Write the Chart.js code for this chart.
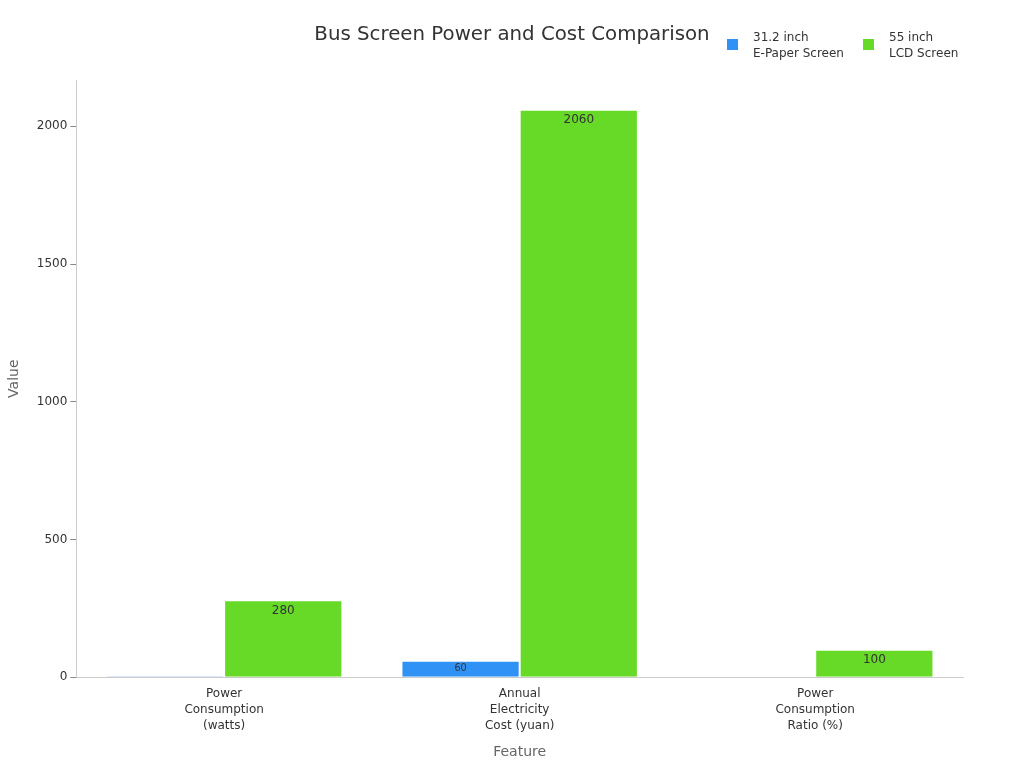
<!DOCTYPE html>
<html>
<head>
<meta charset="utf-8">
<script src="https://cdn.jsdelivr.net/npm/chart.js@4.4.1/dist/chart.umd.min.js"></script>
<style>
    html, body { margin: 0; padding: 0; background: #fff; }
    #wrap { width: 1024px; height: 768px; position: relative; }
</style>
</head>
<body>
<div id="wrap"><canvas id="powerChart"></canvas></div>
<script>
const categories = [
    ['Power', 'Consumption', '(watts)'],
    ['Annual', 'Electricity', 'Cost (yuan)'],
    ['Power', 'Consumption', 'Ratio (%)']
];
const seriesNames = [
    ['31.2 inch', 'E-Paper Screen'],
    ['55 inch', 'LCD Screen']
];
const epaperValues = [5, 60, 1.8];
const lcdValues = [280, 2060, 100];
const yTicks = [0, 500, 1000, 1500, 2000];

const colors = ['#3192f6', '#66da26'];
const FONT = "'DejaVu Sans', sans-serif";
const TITLE = 'Bus Screen Power and Cost Comparison';

// value labels inside the top of each bar, shrinking with short bars
const barLabels = {
    id: 'barLabels',
    afterDatasetsDraw(chart) {
        const ctx = chart.ctx;
        chart.data.datasets.forEach((ds, i) => {
            chart.getDatasetMeta(i).data.forEach((bar, j) => {
                const h = bar.base - bar.y;
                const size = Math.min(12, h * 0.6);
                if (size < 0.5) return;
                ctx.save();
                ctx.font = size + 'px ' + FONT;
                ctx.fillStyle = '#333';
                ctx.textAlign = 'center';
                ctx.textBaseline = 'middle';
                const y = Math.min(bar.y + 10.5, bar.y + h / 2);
                ctx.fillText(String(ds.data[j]), bar.x, y);
                ctx.restore();
            });
        });
    }
};

// title centred on the page plus a two-line legend in the top right corner
const header = {
    id: 'header',
    afterDraw(chart) {
        const ctx = chart.ctx;
        const xs = [727, 863];
        ctx.save();
        ctx.font = '19.8px ' + FONT;
        ctx.fillStyle = '#333';
        ctx.textAlign = 'center';
        ctx.textBaseline = 'middle';
        ctx.fillText(TITLE, chart.width / 2, 35);

        ctx.font = '12px ' + FONT;
        ctx.textAlign = 'left';
        seriesNames.forEach((lines, i) => {
            ctx.fillStyle = colors[i];
            ctx.fillRect(xs[i], 39, 11, 11);
            ctx.fillStyle = '#333';
            lines.forEach((t, k) => ctx.fillText(t, xs[i] + 26, 38 + k * 16));
        });
        ctx.restore();
    }
};

const ctx = document.getElementById('powerChart').getContext('2d');
new Chart(ctx, {
    type: 'bar',
    data: {
        labels: categories,
        datasets: [
            {
                label: seriesNames[0].join(' '),
                data: epaperValues,
                backgroundColor: colors[0],
                borderColor: 'rgba(255,255,255,0.5)',
                borderWidth: 1,
                categoryPercentage: 0.8,
                barPercentage: 1.0
            },
            {
                label: seriesNames[1].join(' '),
                data: lcdValues,
                backgroundColor: colors[1],
                borderColor: 'rgba(255,255,255,0.5)',
                borderWidth: 1,
                categoryPercentage: 0.8,
                barPercentage: 1.0
            }
        ]
    },
    options: {
        responsive: true,
        maintainAspectRatio: false,
        animation: false,
        layout: { padding: { top: 80, right: 61, left: 2, bottom: 3 } },
        plugins: {
            legend: { display: false },
            tooltip: { enabled: false },
            title: { display: false }
        },
        scales: {
            x: {
                grid: { display: false, drawOnChartArea: false, tickLength: 5 },
                border: { color: '#ccc' },
                ticks: {
                    color: '#333',
                    font: { family: FONT, size: 12, lineHeight: 1.33 },
                    padding: 4
                },
                title: {
                    display: true,
                    text: 'Feature',
                    color: '#666',
                    font: { family: FONT, size: 14 },
                    padding: { top: 6 }
                }
            },
            y: {
                min: 0,
                max: 2168,
                afterBuildTicks(axis) {
                    axis.ticks = yTicks.map(v => ({ value: v }));
                },
                grid: { drawOnChartArea: false, tickLength: 6, color: '#888' },
                border: { color: '#ccc' },
                ticks: {
                    color: '#333',
                    font: { family: FONT, size: 12 },
                    padding: 3,
                    callback: v => String(v)
                },
                title: {
                    display: true,
                    text: 'Value',
                    color: '#666',
                    font: { family: FONT, size: 14 },
                    padding: { bottom: 11 }
                }
            }
        }
    },
    plugins: [barLabels, header]
});
</script>
</body>
</html>
